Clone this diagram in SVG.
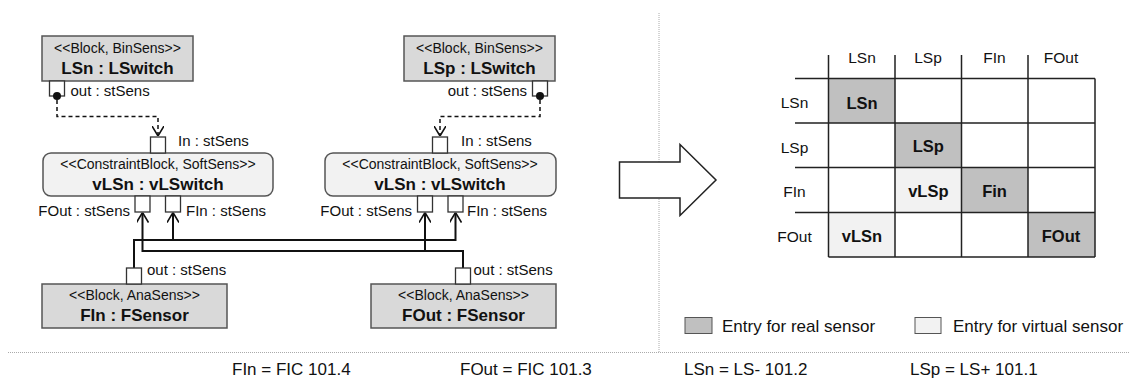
<svg xmlns="http://www.w3.org/2000/svg" width="1130" height="379" viewBox="0 0 1130 379">
<style>
text{font-family:"Liberation Sans",Arial,Helvetica,sans-serif;fill:#111}
.st{font-size:14px;text-anchor:middle}
.nm{font-size:17px;font-weight:bold;text-anchor:middle}
.lb{font-size:15px}
.end{text-anchor:end}
.blk{fill:#d9d9d9;stroke:#555;stroke-width:1.5}
.cb{fill:#f2f2f2;stroke:#555;stroke-width:1.5}
.port{fill:#fff;stroke:#333;stroke-width:1.3}
.con{fill:none;stroke:#111;stroke-width:2}
.dash{fill:none;stroke:#111;stroke-width:1.5;stroke-dasharray:4 3}
.sep{fill:none;stroke:#aaa;stroke-width:1;stroke-dasharray:1 1}
.grid{fill:none;stroke:#222;stroke-width:1.5}
.dk{fill:#c0c0c0}
.lt{fill:#f2f2f2}
.hd{font-size:15.5px;text-anchor:middle}
.cell{font-size:16.5px;font-weight:bold;text-anchor:middle}
.leg{font-size:17px}
.bot{font-size:17px}
</style>
<defs>
<marker id="oa" viewBox="0 0 10 12" refX="10" refY="6" markerWidth="10" markerHeight="12" orient="auto" markerUnits="userSpaceOnUse">
<path d="M0,0 L10,6 L0,12" fill="none" stroke="#111" stroke-width="1.6"/>
</marker>
</defs>
<rect x="0" y="0" width="1130" height="379" fill="#fff"/>

<g id="separators">
<line class="sep" x1="659" y1="13" x2="659" y2="352.5"/>
<line class="sep" x1="8" y1="352.5" x2="1130" y2="352.5"/>
</g>

<g id="connectors">
<path class="dash" d="M57 100 V116.5 H158 V136" marker-end="url(#oa)"/>
<path class="dash" d="M540 100 V116.5 H440 V136" marker-end="url(#oa)"/>
<path class="con" d="M134 268 V240 H455.5 V212.5" marker-end="url(#oa)"/>
<path class="con" d="M173 240 V212.5" marker-end="url(#oa)"/>
<path class="con" d="M463 268 V251 H142.5 V212.5" marker-end="url(#oa)"/>
<path class="con" d="M425 251 V212.5" marker-end="url(#oa)"/>
</g>

<g id="LSn">
<rect class="blk" x="42" y="36" width="151" height="45"/>
<text class="st" x="117.5" y="53">&lt;&lt;Block, BinSens&gt;&gt;</text>
<text class="nm" x="117.5" y="73.5">LSn : LSwitch</text>
<rect class="port" x="49.5" y="81" width="15" height="15"/>
<circle cx="57" cy="96" r="4" fill="#111"/>
<text class="lb" x="70.5" y="96">out : stSens</text>
</g>

<g id="LSp">
<rect class="blk" x="404" y="36" width="151" height="45"/>
<text class="st" x="479.5" y="53">&lt;&lt;Block, BinSens&gt;&gt;</text>
<text class="nm" x="479.5" y="73.5">LSp : LSwitch</text>
<rect class="port" x="532.5" y="81" width="15" height="15"/>
<circle cx="540" cy="96" r="4" fill="#111"/>
<text class="lb end" x="527" y="96">out : stSens</text>
</g>

<g id="vLSn-left">
<rect class="cb" x="43" y="153" width="230" height="43" rx="8"/>
<text class="st" x="158" y="168.5">&lt;&lt;ConstraintBlock, SoftSens&gt;&gt;</text>
<text class="nm" x="158" y="189.5">vLSn : vLSwitch</text>
<rect class="port" x="150.5" y="137" width="15" height="16"/>
<text class="lb" x="178" y="146">In : stSens</text>
<rect class="port" x="135" y="196" width="15" height="16"/>
<rect class="port" x="165.5" y="196" width="15" height="16"/>
<text class="lb end" x="130" y="216">FOut : stSens</text>
<text class="lb" x="186" y="216">FIn : stSens</text>
</g>

<g id="vLSn-right">
<rect class="cb" x="325" y="153" width="231" height="43" rx="8"/>
<text class="st" x="440" y="168.5">&lt;&lt;ConstraintBlock, SoftSens&gt;&gt;</text>
<text class="nm" x="440" y="189.5">vLSn : vLSwitch</text>
<rect class="port" x="432.5" y="137" width="15" height="16"/>
<text class="lb" x="461" y="146">In : stSens</text>
<rect class="port" x="417.5" y="196" width="15" height="16"/>
<rect class="port" x="448" y="196" width="15" height="16"/>
<text class="lb end" x="412" y="216">FOut : stSens</text>
<text class="lb" x="467" y="216">FIn : stSens</text>
</g>

<g id="FIn">
<rect class="blk" x="42" y="284" width="185" height="44"/>
<text class="st" x="134.5" y="300">&lt;&lt;Block, AnaSens&gt;&gt;</text>
<text class="nm" x="134.5" y="321">FIn : FSensor</text>
<rect class="port" x="126.5" y="268" width="15" height="16"/>
<text class="lb" x="147" y="275">out : stSens</text>
</g>

<g id="FOut">
<rect class="blk" x="371" y="284" width="185" height="44"/>
<text class="st" x="463.5" y="300">&lt;&lt;Block, AnaSens&gt;&gt;</text>
<text class="nm" x="463.5" y="321">FOut : FSensor</text>
<rect class="port" x="455.5" y="268" width="15" height="16"/>
<text class="lb" x="473.5" y="275">out : stSens</text>
</g>

<g id="bigArrow">
<polygon points="619.5,162 680,162 680,144.5 716,180 680,215.5 680,198 619.5,198" fill="#fff" stroke="#222" stroke-width="1.5"/>
</g>

<g id="matrix">
<rect class="dk" x="828.5" y="78.5" width="66.5" height="44.5"/>
<rect class="dk" x="895" y="123" width="66.5" height="44.5"/>
<rect class="lt" x="895" y="167.5" width="66.5" height="45"/>
<rect class="dk" x="961.5" y="167.5" width="66.5" height="45"/>
<rect class="lt" x="828.5" y="212.5" width="66.5" height="44.5"/>
<rect class="dk" x="1028" y="212.5" width="67" height="44.5"/>
<path class="grid" d="M828.5 55 V257 M895 55 V257 M961.5 55 V257 M1028 55 V257 M1095 78.5 V257 M795 78.5 H1095 M795 123 H1095 M795 167.5 H1095 M795 212.5 H1095 M828.5 257 H1095"/>
<text class="hd" x="862" y="63">LSn</text>
<text class="hd" x="928" y="63">LSp</text>
<text class="hd" x="994.5" y="63">FIn</text>
<text class="hd" x="1061" y="63">FOut</text>
<text class="hd" x="794.5" y="108">LSn</text>
<text class="hd" x="794.5" y="152.5">LSp</text>
<text class="hd" x="794.5" y="197">FIn</text>
<text class="hd" x="794.5" y="241.5">FOut</text>
<text class="cell" x="862" y="108.5">LSn</text>
<text class="cell" x="928.3" y="152">LSp</text>
<text class="cell" x="928.3" y="197">vLSp</text>
<text class="cell" x="994.5" y="197">Fin</text>
<text class="cell" x="862" y="241.5">vLSn</text>
<text class="cell" x="1061" y="241.5">FOut</text>
</g>

<g id="legend">
<rect x="685" y="317.5" width="27" height="16" fill="#c0c0c0" stroke="#555" stroke-width="1"/>
<text class="leg" x="722" y="331.5">Entry for real sensor</text>
<rect x="915" y="317.5" width="26" height="16" fill="#f2f2f2" stroke="#555" stroke-width="1"/>
<text class="leg" x="953" y="331.5">Entry for virtual sensor</text>
</g>

<g id="footnotes">
<text class="bot" x="232" y="375">FIn = FIC 101.4</text>
<text class="bot" x="460" y="375">FOut = FIC 101.3</text>
<text class="bot" x="684" y="375">LSn = LS- 101.2</text>
<text class="bot" x="910" y="375">LSp = LS+ 101.1</text>
</g>
</svg>
